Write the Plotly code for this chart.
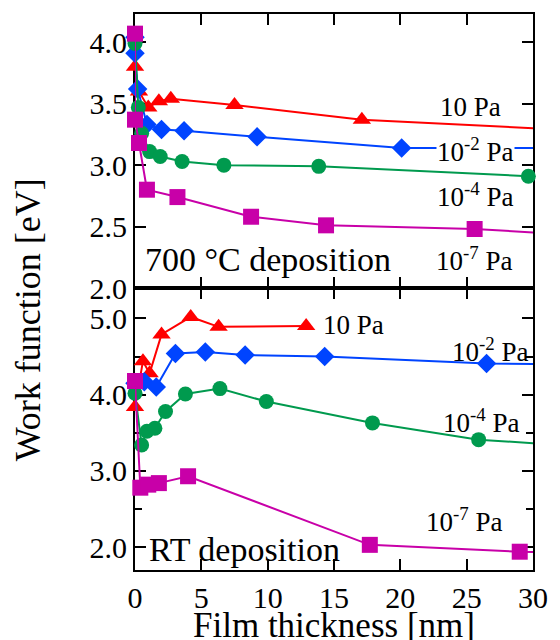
import numpy as np
import plotly.graph_objects as go

# ---------------- data ----------------
# 700 °C deposition (top panel)
top_10pa_x   = [0.0, 0.3, 1.0, 1.8, 2.7, 7.5, 17.1, 32.0]
top_10pa_y   = [3.80, 3.60, 3.47, 3.52, 3.54, 3.49, 3.37, 3.29]
top_1e2_x    = [0.0, 0.0, 0.2, 0.9, 2.0, 3.7, 9.2, 20.1, 32.0]
top_1e2_y    = [4.04, 3.91, 3.62, 3.33, 3.29, 3.28, 3.23, 3.14, 3.14]
top_1e4_x    = [0.0, 0.25, 0.5, 1.1, 1.9, 3.55, 6.7, 13.85, 29.65]
top_1e4_y    = [3.99, 3.47, 3.26, 3.11, 3.07, 3.03, 3.00, 2.99, 2.91]
top_1e7_x    = [0.0, 0.0, 0.3, 0.9, 3.2, 8.75, 14.4, 25.6, 32.0]
top_1e7_y    = [4.07, 3.37, 3.18, 2.80, 2.74, 2.58, 2.51, 2.48, 2.44]

# RT deposition (bottom panel)
bot_10pa_x   = [0.0, 0.6, 1.1, 2.0, 4.2, 6.3, 12.9]
bot_10pa_y   = [3.84, 4.44, 4.28, 4.79, 5.02, 4.89, 4.90]
bot_1e2_x    = [0.0, 0.7, 1.6, 3.05, 5.3, 8.3, 14.3, 26.5, 32.0]
bot_1e2_y    = [4.15, 4.17, 4.10, 4.54, 4.56, 4.52, 4.50, 4.41, 4.40]
bot_1e4_x    = [0.0, 0.5, 0.9, 1.5, 2.3, 3.8, 6.4, 9.9, 17.9, 25.9, 32.0]
bot_1e4_y    = [4.02, 3.34, 3.52, 3.56, 3.78, 4.01, 4.08, 3.91, 3.63, 3.41, 3.34]
bot_1e7_x    = [0.0, 0.4, 1.0, 1.8, 4.0, 17.7, 29.0, 32.0]
bot_1e7_y    = [4.18, 2.78, 2.82, 2.84, 2.93, 2.03, 1.94, 1.93]

x_ticks = [0, 5, 10, 15, 20, 25, 30]
top_y_ticks = [2.0, 2.5, 3.0, 3.5, 4.0]
bot_y_ticks = [2.0, 3.0, 4.0, 5.0]

RED = "#ff0000"
BLUE = "#0044ff"
GREEN = "#009a4e"
MAG = "#c800a8"
FONT = "Liberation Serif"

series = [
    # x, y, color, symbol, size, xaxis, yaxis
    (top_10pa_x, top_10pa_y, RED, "triangle-up", 16, "x2", "y"),
    (top_1e2_x, top_1e2_y, BLUE, "diamond", 15, "x2", "y"),
    (top_1e4_x, top_1e4_y, GREEN, "circle", 15, "x2", "y"),
    (top_1e7_x, top_1e7_y, MAG, "square", 16, "x2", "y"),
    (bot_10pa_x, bot_10pa_y, RED, "triangle-up", 16, "x", "y2"),
    (bot_1e2_x, bot_1e2_y, BLUE, "diamond", 15, "x", "y2"),
    (bot_1e4_x, bot_1e4_y, GREEN, "circle", 15, "x", "y2"),
    (bot_1e7_x, bot_1e7_y, MAG, "square", 16, "x", "y2"),
]

fig = go.Figure()
for xs, ys, col, sym, sz, xa, ya in series:
    xs = np.array(xs); ys = np.array(ys)
    fig.add_trace(go.Scatter(x=xs, y=ys, mode="lines", xaxis=xa, yaxis=ya,
                             line=dict(color=col, width=2), showlegend=False,
                             hoverinfo="skip"))
    m = xs <= 30
    fig.add_trace(go.Scatter(x=xs[m], y=ys[m], mode="markers", xaxis=xa, yaxis=ya,
                             marker=dict(color=col, symbol=sym, size=sz, line=dict(width=0)),
                             cliponaxis=False, showlegend=False))

split = 282 / 556

axis_common = dict(showline=True, linecolor="black", linewidth=2, mirror="ticks",
                   ticks="inside", ticklen=11, tickwidth=2, tickcolor="black",
                   showgrid=False, zeroline=False, layer="below traces",
                   tickfont=dict(family=FONT, size=30, color="black"))

fig.update_layout(
    width=560, height=640,
    margin=dict(l=135, r=17, t=14, b=70),
    paper_bgcolor="white", plot_bgcolor="white",
    xaxis=dict(domain=[0, 1], anchor="y2", range=[0, 30], tickvals=x_ticks,
               ticktext=[str(v) for v in x_ticks], **axis_common),
    xaxis2=dict(domain=[0, 1], anchor="y", range=[0, 30], matches="x",
                tickvals=x_ticks, showticklabels=False, **axis_common),
    yaxis=dict(domain=[split, 1], anchor="x2", range=[2.0, 4.23],
               tickvals=top_y_ticks, ticktext=[f"{v:.1f}" for v in top_y_ticks],
               **axis_common),
    yaxis2=dict(domain=[0, split], anchor="x", range=[1.7, 5.4],
                tickvals=bot_y_ticks, ticktext=[f"{v:.1f}" for v in bot_y_ticks],
                minor=dict(dtick=0.5, tick0=0, ticks="inside", ticklen=7,
                           tickwidth=2, tickcolor="black"),
                **axis_common),
)

ann_font = dict(family=FONT, size=27, color="black")
big_font = dict(family=FONT, size=34, color="black")

annotations = [
    # axis titles
    dict(text="Film thickness [nm]", xref="paper", yref="paper", x=0.5, y=-0.099,
         xanchor="center", yanchor="middle", showarrow=False,
         font=dict(family=FONT, size=35, color="black")),
    dict(text="Work function [eV]", xref="paper", yref="paper", x=-0.27, y=0.45,
         xanchor="center", yanchor="middle", textangle=-90, showarrow=False,
         font=dict(family=FONT, size=36, color="black")),
    # panel labels
    dict(text="700 °C deposition", xref="x2", yref="y", x=0.6, y=2.23,
         xanchor="left", yanchor="middle", showarrow=False, font=big_font),
    dict(text="RT deposition", xref="x", yref="y2", x=0.9, y=1.97,
         xanchor="left", yanchor="middle", showarrow=False, font=big_font),
    # top panel pressure labels
    dict(text="10 Pa", xref="x2", yref="y", x=25.3, y=3.47, xanchor="center",
         yanchor="middle", showarrow=False, font=ann_font),
    dict(text="10<sup>-2</sup> Pa", xref="x2", yref="y", x=25.7, y=3.12, xanchor="center",
         yanchor="middle", showarrow=False, font=ann_font, bgcolor="white", borderpad=0),
    dict(text="10<sup>-4</sup> Pa", xref="x2", yref="y", x=25.7, y=2.76, xanchor="center",
         yanchor="middle", showarrow=False, font=ann_font),
    dict(text="10<sup>-7</sup> Pa", xref="x2", yref="y", x=25.6, y=2.24, xanchor="center",
         yanchor="middle", showarrow=False, font=ann_font),
    # bottom panel pressure labels
    dict(text="10 Pa", xref="x", yref="y2", x=14.0, y=4.92, xanchor="left",
         yanchor="middle", showarrow=False, font=ann_font),
    dict(text="10<sup>-2</sup> Pa", xref="x", yref="y2", x=26.8, y=4.59, xanchor="center",
         yanchor="middle", showarrow=False, font=ann_font),
    dict(text="10<sup>-4</sup> Pa", xref="x", yref="y2", x=26.1, y=3.65, xanchor="center",
         yanchor="middle", showarrow=False, font=ann_font),
    dict(text="10<sup>-7</sup> Pa", xref="x", yref="y2", x=24.8, y=2.36, xanchor="center",
         yanchor="middle", showarrow=False, font=ann_font),
]
fig.update_layout(annotations=annotations)

fig.write_html("out.html",
               config={"displayModeBar": False},
               post_script="document.body.style.margin='0';"
                           "document.body.style.overflow='hidden';")
